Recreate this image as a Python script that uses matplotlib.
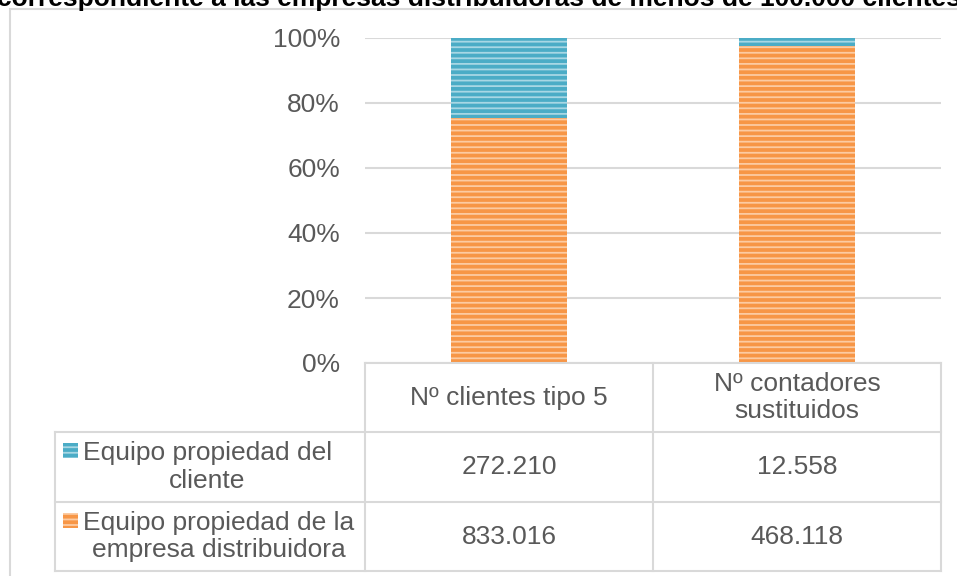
import numpy as np
import matplotlib
matplotlib.use("Agg")
import matplotlib.pyplot as plt
from matplotlib.patches import Rectangle

# data
categories = ["Nº clientes tipo 5", "Nº contadores\nsustituidos"]
series_names = ["Equipo propiedad del\ncliente",
                "Equipo propiedad de la\nempresa distribuidora"]
cliente = [272210, 12558]
empresa = [833016, 468118]
cliente_txt = ["272.210", "12.558"]
empresa_txt = ["833.016", "468.118"]
yticks = [0, 0.2, 0.4, 0.6, 0.8, 1.0]
ytick_labels = ["0%", "20%", "40%", "60%", "80%", "100%"]
title = "correspondiente a las empresas distribuidoras de menos de 100.000 clientes"

plt.rcParams["font.family"] = ["Liberation Sans", "DejaVu Sans"]
plt.rcParams["hatch.linewidth"] = 1.3

txt_col = "#595959"
grid_col = "#D9D9D9"
blue, blue_h = "#4BACC6", "#A8D7E4"
orange, orange_h = "#F79646", "#FCCBA2"

W, H = 957, 576
fig = plt.figure(figsize=(W / 100, H / 100), dpi=100)

# outer chart frame (cut at right and bottom like the reference)
fig.add_artist(Rectangle((10 / W, -0.1), 1.2, 1.1 - 9 / H, transform=fig.transFigure,
                         fill=False, edgecolor=grid_col, lw=1.5))
fig.text(0.5, 1 - 6 / H, title, ha="center", va="baseline",
         fontsize=19, fontweight="bold", color="black")

# plot area
ax = fig.add_axes([365 / W, (H - 363) / H, 576 / W, 325 / H])
cliente = np.array(cliente, float)
empresa = np.array(empresa, float)
tot = cliente + empresa
x = np.arange(len(categories))
ax.bar(x, empresa / tot, width=0.403, color=orange, edgecolor=orange_h, lw=0,
       hatch="---", zorder=3)
ax.bar(x, cliente / tot, bottom=empresa / tot, width=0.403, color=blue,
       edgecolor=blue_h, lw=0, hatch="---", zorder=3)
ax.set_xlim(-0.5, len(categories) - 0.5)
ax.set_ylim(0, 1)
ax.set_yticks(yticks)
ax.set_yticklabels(ytick_labels, fontsize=19, color=txt_col)
ax.set_xticks([])
ax.tick_params(axis="y", length=0, pad=18)
ax.grid(axis="y", color=grid_col, lw=1.5, zorder=0)
for s in ax.spines.values():
    s.set_visible(False)

# data table under the plot, in pixel coordinates
tx = fig.add_axes([0, 0, 1, 1], facecolor="none")
tx.set_xlim(0, W)
tx.set_ylim(H, 0)
tx.axis("off")
col_edges = [365, 653, 941]
row_edges = [363, 432, 502, 571]
lkw = dict(color=grid_col, lw=1.5)
tx.plot([365, 941], [363, 363], **lkw)
for yy in row_edges[1:]:
    tx.plot([55, 941], [yy, yy], **lkw)
for xx in col_edges:
    tx.plot([xx, xx], [363, 571], **lkw)
tx.plot([55, 55], [432, 571], **lkw)

for i, cat in enumerate(categories):
    cx = (col_edges[i] + col_edges[i + 1]) / 2
    tx.text(cx, (row_edges[0] + row_edges[1]) / 2, cat, ha="center", va="center",
            fontsize=19, color=txt_col, linespacing=1.2)
    tx.text(cx, (row_edges[1] + row_edges[2]) / 2, cliente_txt[i], ha="center",
            va="center", fontsize=19, color=txt_col)
    tx.text(cx, (row_edges[2] + row_edges[3]) / 2, empresa_txt[i], ha="center",
            va="center", fontsize=19, color=txt_col)

for r, (name, fc, hc) in enumerate(zip(series_names, [blue, orange], [blue_h, orange_h])):
    yc = (row_edges[r + 1] + row_edges[r + 2]) / 2
    tx.text(83, yc, name, ha="left", va="center", multialignment="center",
            fontsize=19, color=txt_col, linespacing=1.2)
    tx.add_patch(Rectangle((63, yc - 24), 15, 15, facecolor=fc, edgecolor=hc,
                           lw=0, hatch="---"))

fig.savefig("out.png", dpi=100)
